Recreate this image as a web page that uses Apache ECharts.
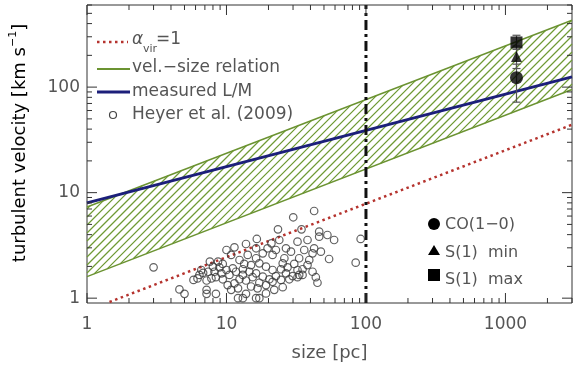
<!DOCTYPE html>
<html><head><meta charset="utf-8">
<script src="https://cdn.jsdelivr.net/npm/echarts/dist/echarts.min.js"></script>
<style>html,body{margin:0;padding:0;background:#fff}#c{width:573px;height:369px}</style>
</head><body><div id="c"></div>
<script>
// ---- axis ranges & ticks ----
const xRange = [1, 3000];
const yRange = [0.9, 600];
const xMajor = [1, 10, 100, 1000];
const xMinor = [2,3,4,5,6,7,8,9,20,30,40,50,60,70,80,90,200,300,400,500,600,700,800,900,2000,3000];
const yMajor = [1, 10, 100];
const yMinor = [2,3,4,5,6,7,8,9,20,30,40,50,60,70,80,90,200,300,400,500,600];

// ---- model lines (endpoints) ----
const alphaR = [1.45, 3000];
const alphaV = [0.92, 44];
const lmR = [1, 3000];
const lmV = [8, 125];
const bandR = [1, 3000];
const bandUpper = [7.3, 430];
const bandLower = [1.6, 95];
const vlineR = [100, 100];
const vlineV = [0.9, 600];

// ---- Heyer et al. (2009) ----
const heyerR = [3.0,4.6,5.0,5.8,6.2,6.4,6.6,6.8,7.2,7.2,7.2,7.4,7.6,7.8,8.0,8.2,8.4,8.4,8.7,8.9,9.2,9.4,9.4,10.0,10.0,10.2,10.5,10.8,10.8,11.1,11.4,11.4,11.7,12.1,12.1,12.4,12.4,13.1,13.1,13.1,13.4,13.8,13.8,13.8,14.2,14.6,15.0,15.0,15.4,16.3,16.3,16.3,16.3,16.5,16.7,17.2,17.2,17.2,18.2,18.2,19.2,19.2,19.2,19.7,20.3,21.0,21.4,21.4,21.4,22.0,22.6,22.6,23.4,23.9,24.6,24.6,25.3,25.3,26.0,26.7,26.7,27.4,28.2,29.0,29.8,30.1,30.6,32.3,32.3,32.3,33.2,33.2,34.5,35.1,35.1,36.1,38.1,38.1,39.2,41.4,41.4,42.5,42.5,43.7,44.9,46.2,46.2,47.5,52.9,54.4,59.1,84.4,91.6];
const heyerV = [1.96,1.21,1.10,1.49,1.54,1.66,1.85,1.74,1.47,1.20,1.10,1.78,2.22,1.54,1.99,1.78,1.58,1.10,2.22,1.96,1.72,2.11,1.51,2.86,1.85,1.33,1.66,2.57,1.20,1.92,3.03,1.38,1.78,1.24,1.00,2.30,1.51,1.88,1.66,1.00,2.11,3.26,1.47,1.10,2.57,1.78,2.06,1.29,1.58,2.97,2.39,1.72,1.00,3.64,1.24,2.14,1.40,1.00,2.66,1.60,1.99,1.33,1.11,2.97,1.51,3.31,2.57,1.85,1.43,1.20,2.86,1.62,4.49,3.56,1.88,1.49,2.14,1.27,2.39,2.97,1.72,1.96,1.51,2.76,1.62,5.84,2.11,3.43,1.85,1.58,2.39,1.66,4.49,1.88,1.66,2.86,3.56,2.06,2.30,2.66,1.78,6.70,2.97,1.58,1.40,4.27,3.83,2.76,3.97,2.35,3.56,2.17,3.64];

// ---- observed points with error bars ----
const obsR = 1200;
const coV = 123,  coLo = 72,  coHi = 165;
const sMinV = 195, sMinLo = 150, sMinHi = 245;
const sMaxV = 265, sMaxLo = 228, sMaxHi = 310;

const FONT = 'DejaVu Sans';
const TXT = '#555';
const RED = '#b5332e', GREEN = '#6b9331', BLUE = '#1c1f7a', HATCH = '#6f9a35';
const HATCH_STEP = 8;

const zip = (a, b) => a.map((v, i) => [v, b[i]]);

// clip the diagonal line x + y = c against a convex polygon (pixel space)
function clipDiag(poly, c) {
  const pts = [];
  for (let i = 0; i < poly.length; i++) {
    const P = poly[i], Q = poly[(i + 1) % poly.length];
    const sp = P[0] + P[1], sq = Q[0] + Q[1];
    if (sp === sq) continue;
    const s = (c - sp) / (sq - sp);
    if (s >= 0 && s <= 1) pts.push([P[0] + s * (Q[0] - P[0]), P[1] + s * (Q[1] - P[1])]);
  }
  if (pts.length < 2) return null;
  pts.sort((a, b) => a[0] - b[0]);
  return [pts[0], pts[pts.length - 1]];
}

const chart = echarts.init(document.getElementById('c'), null, {renderer: 'canvas'});
const labelFmt = v => {
  const l = Math.log10(v);
  return Math.abs(l - Math.round(l)) < 1e-6 ? String(Math.round(v)) : '';
};

const option = {
  animation: false,
  backgroundColor: '#fff',
  grid: {left: 87, right: 1, top: 5, bottom: 66, show: true, borderColor: '#333', borderWidth: 1},
  xAxis: {
    type: 'log', logBase: 10, min: xRange[0], max: xRange[1],
    axisLine: {show: false}, axisTick: {show: false}, splitLine: {show: false},
    axisLabel: {formatter: labelFmt, color: TXT, fontFamily: FONT, fontSize: 17, margin: 13, showMinLabel: true, showMaxLabel: false},
    name: 'size [pc]', nameLocation: 'middle', nameGap: 41,
    nameTextStyle: {color: TXT, fontFamily: FONT, fontSize: 18}
  },
  yAxis: {
    type: 'log', logBase: 10, min: yRange[0], max: yRange[1],
    axisLine: {show: false}, axisTick: {show: false}, splitLine: {show: false},
    axisLabel: {formatter: labelFmt, color: TXT, fontFamily: FONT, fontSize: 17, margin: 7, showMinLabel: false, showMaxLabel: false}
  },
  graphic: [
    {type: 'text', x: 20, y: 143, rotation: Math.PI / 2, style: {
      text: '{a|turbulent velocity [km s}{b|−1}{a|]}', align: 'center', verticalAlign: 'middle',
      rich: {a: {fontFamily: FONT, fontSize: 18, color: TXT, lineHeight: 24, verticalAlign: 'middle'},
             b: {fontFamily: FONT, fontSize: 11, color: TXT, lineHeight: 24, verticalAlign: 'top'}}
    }},
    // top-left legend
    {type: 'line', shape: {x1: 97, y1: 42, x2: 128, y2: 42}, style: {stroke: RED, lineWidth: 2.5, lineDash: [2.5, 3.5]}},
    {type: 'text', x: 132, y: 40, style: {text: 'α', font: 'italic 17px ' + FONT, fill: TXT, verticalAlign: 'middle'}},
    {type: 'text', x: 143, y: 49, style: {text: 'vir', font: '11px ' + FONT, fill: TXT, verticalAlign: 'middle'}},
    {type: 'text', x: 156, y: 40, style: {text: '=1', font: '17px ' + FONT, fill: TXT, verticalAlign: 'middle'}},
    {type: 'line', shape: {x1: 97, y1: 69, x2: 130, y2: 69}, style: {stroke: GREEN, lineWidth: 2}},
    {type: 'text', x: 132, y: 68, style: {text: 'vel.−size relation', font: '17px ' + FONT, fill: TXT, verticalAlign: 'middle'}},
    {type: 'line', shape: {x1: 97, y1: 92, x2: 130, y2: 92}, style: {stroke: BLUE, lineWidth: 3}},
    {type: 'text', x: 132, y: 92, style: {text: 'measured L/M', font: '17px ' + FONT, fill: TXT, verticalAlign: 'middle'}},
    {type: 'circle', shape: {cx: 113, cy: 115, r: 3.5}, style: {stroke: '#444', fill: 'none', lineWidth: 1.2}},
    {type: 'text', x: 132, y: 115, style: {text: 'Heyer et al. (2009)', font: '17px ' + FONT, fill: TXT, verticalAlign: 'middle'}},
    // bottom-right legend
    {type: 'circle', shape: {cx: 434, cy: 224, r: 6}, style: {fill: '#000'}},
    {type: 'text', x: 445, y: 225, style: {text: 'CO(1−0)', font: '16px ' + FONT, fill: TXT, verticalAlign: 'middle'}},
    {type: 'polygon', shape: {points: [[428, 255], [440, 255], [434, 245]]}, style: {fill: '#000'}},
    {type: 'text', x: 445, y: 253, style: {text: 'S(1)  min', font: '16px ' + FONT, fill: TXT, verticalAlign: 'middle'}},
    {type: 'rect', shape: {x: 428, y: 269, width: 12, height: 12}, style: {fill: '#000'}},
    {type: 'text', x: 445, y: 280, style: {text: 'S(1)  max', font: '16px ' + FONT, fill: TXT, verticalAlign: 'middle'}}
  ],
  series: [
    { // hatched velocity-size band
      type: 'custom', silent: true, z: 1,
      itemStyle: {color: HATCH, borderColor: HATCH},
      data: [[bandR[0], bandLower[0]]],
      renderItem: (params, api) => {
        const up = bandR.map((r, i) => api.coord([r, bandUpper[i]]));
        const lo = bandR.map((r, i) => api.coord([r, bandLower[i]])).reverse();
        const poly = up.concat(lo);
        const sums = poly.map(p => p[0] + p[1]);
        const cMin = Math.min(...sums), cMax = Math.max(...sums);
        let d = '';
        for (let c = Math.ceil(cMin / HATCH_STEP) * HATCH_STEP; c <= cMax; c += HATCH_STEP) {
          const seg = clipDiag(poly, c);
          if (seg) d += 'M' + seg[0][0].toFixed(2) + ' ' + seg[0][1].toFixed(2) + 'L' + seg[1][0].toFixed(2) + ' ' + seg[1][1].toFixed(2);
        }
        return {type: 'path', shape: {pathData: d},
          style: {stroke: HATCH, fill: null, lineWidth: 1.25, opacity: 1}};
      }
    },
    {type: 'line', data: zip(bandR, bandUpper), symbol: 'none', z: 2, lineStyle: {color: GREEN, width: 1.5}},
    {type: 'line', data: zip(bandR, bandLower), symbol: 'none', z: 2, lineStyle: {color: GREEN, width: 1.5}},
    {type: 'line', data: zip(lmR, lmV), symbol: 'none', z: 3, lineStyle: {color: BLUE, width: 3}},
    {type: 'line', data: zip(alphaR, alphaV), symbol: 'none', z: 3, lineStyle: {color: RED, width: 2.5, type: [2.5, 3.5], cap: 'butt'}},
    {type: 'line', data: zip(vlineR, vlineV), symbol: 'none', z: 4, lineStyle: {color: '#111', width: 3, type: [10, 4, 3, 4]}},
    {type: 'scatter', data: zip(heyerR, heyerV), symbol: 'circle', symbolSize: 7.5, z: 5,
      itemStyle: {color: 'rgba(0,0,0,0)', borderColor: '#3a3a3a', borderWidth: 1.2}},
    { // error bars
      type: 'custom', z: 6,
      data: [[obsR, coLo, coHi], [obsR, sMinLo, sMinHi], [obsR, sMaxLo, sMaxHi]],
      renderItem: (params, api) => {
        const x = api.value(0);
        const a = api.coord([x, api.value(1)]);
        const b = api.coord([x, api.value(2)]);
        const st = {stroke: '#555', lineWidth: 1.2};
        return {type: 'group', children: [
          {type: 'line', shape: {x1: a[0], y1: a[1], x2: b[0], y2: b[1]}, style: st},
          {type: 'line', shape: {x1: a[0] - 4, y1: a[1], x2: a[0] + 4, y2: a[1]}, style: st},
          {type: 'line', shape: {x1: b[0] - 4, y1: b[1], x2: b[0] + 4, y2: b[1]}, style: st}
        ]};
      }
    },
    {type: 'scatter', data: [[obsR, coV]], symbol: 'circle', symbolSize: 13, z: 7, itemStyle: {color: '#000'}},
    {type: 'scatter', data: [[obsR, sMinV]], symbol: 'triangle', symbolSize: 11, z: 7, itemStyle: {color: '#000'}},
    {type: 'scatter', data: [[obsR, sMaxV]], symbol: 'rect', symbolSize: 12, z: 7, itemStyle: {color: '#000'}},
    { // frame ticks on all four sides
      type: 'custom', silent: true, z: 8, clip: false,
      data: [[1, 1]],
      renderItem: (params, api) => {
        const cs = params.coordSys;
        const top = cs.y, bot = cs.y + cs.height, left = cs.x, right = cs.x + cs.width;
        const st = {stroke: '#333', lineWidth: 1};
        const ch = [];
        const xt = (v, len) => {
          const p = api.coord([v, yRange[0]])[0];
          ch.push({type: 'line', shape: {x1: p, y1: bot, x2: p, y2: bot - len}, style: st});
          ch.push({type: 'line', shape: {x1: p, y1: top, x2: p, y2: top + len}, style: st});
        };
        const yt = (v, len) => {
          const p = api.coord([xRange[0], v])[1];
          ch.push({type: 'line', shape: {x1: left, y1: p, x2: left + len, y2: p}, style: st});
          ch.push({type: 'line', shape: {x1: right, y1: p, x2: right - len, y2: p}, style: st});
        };
        xMajor.forEach(v => xt(v, 10)); xMinor.forEach(v => xt(v, 5));
        yMajor.forEach(v => yt(v, 10)); yMinor.forEach(v => yt(v, 5));
        return {type: 'group', children: ch};
      }
    }
  ]
};
chart.setOption(option);
</script></body></html>
